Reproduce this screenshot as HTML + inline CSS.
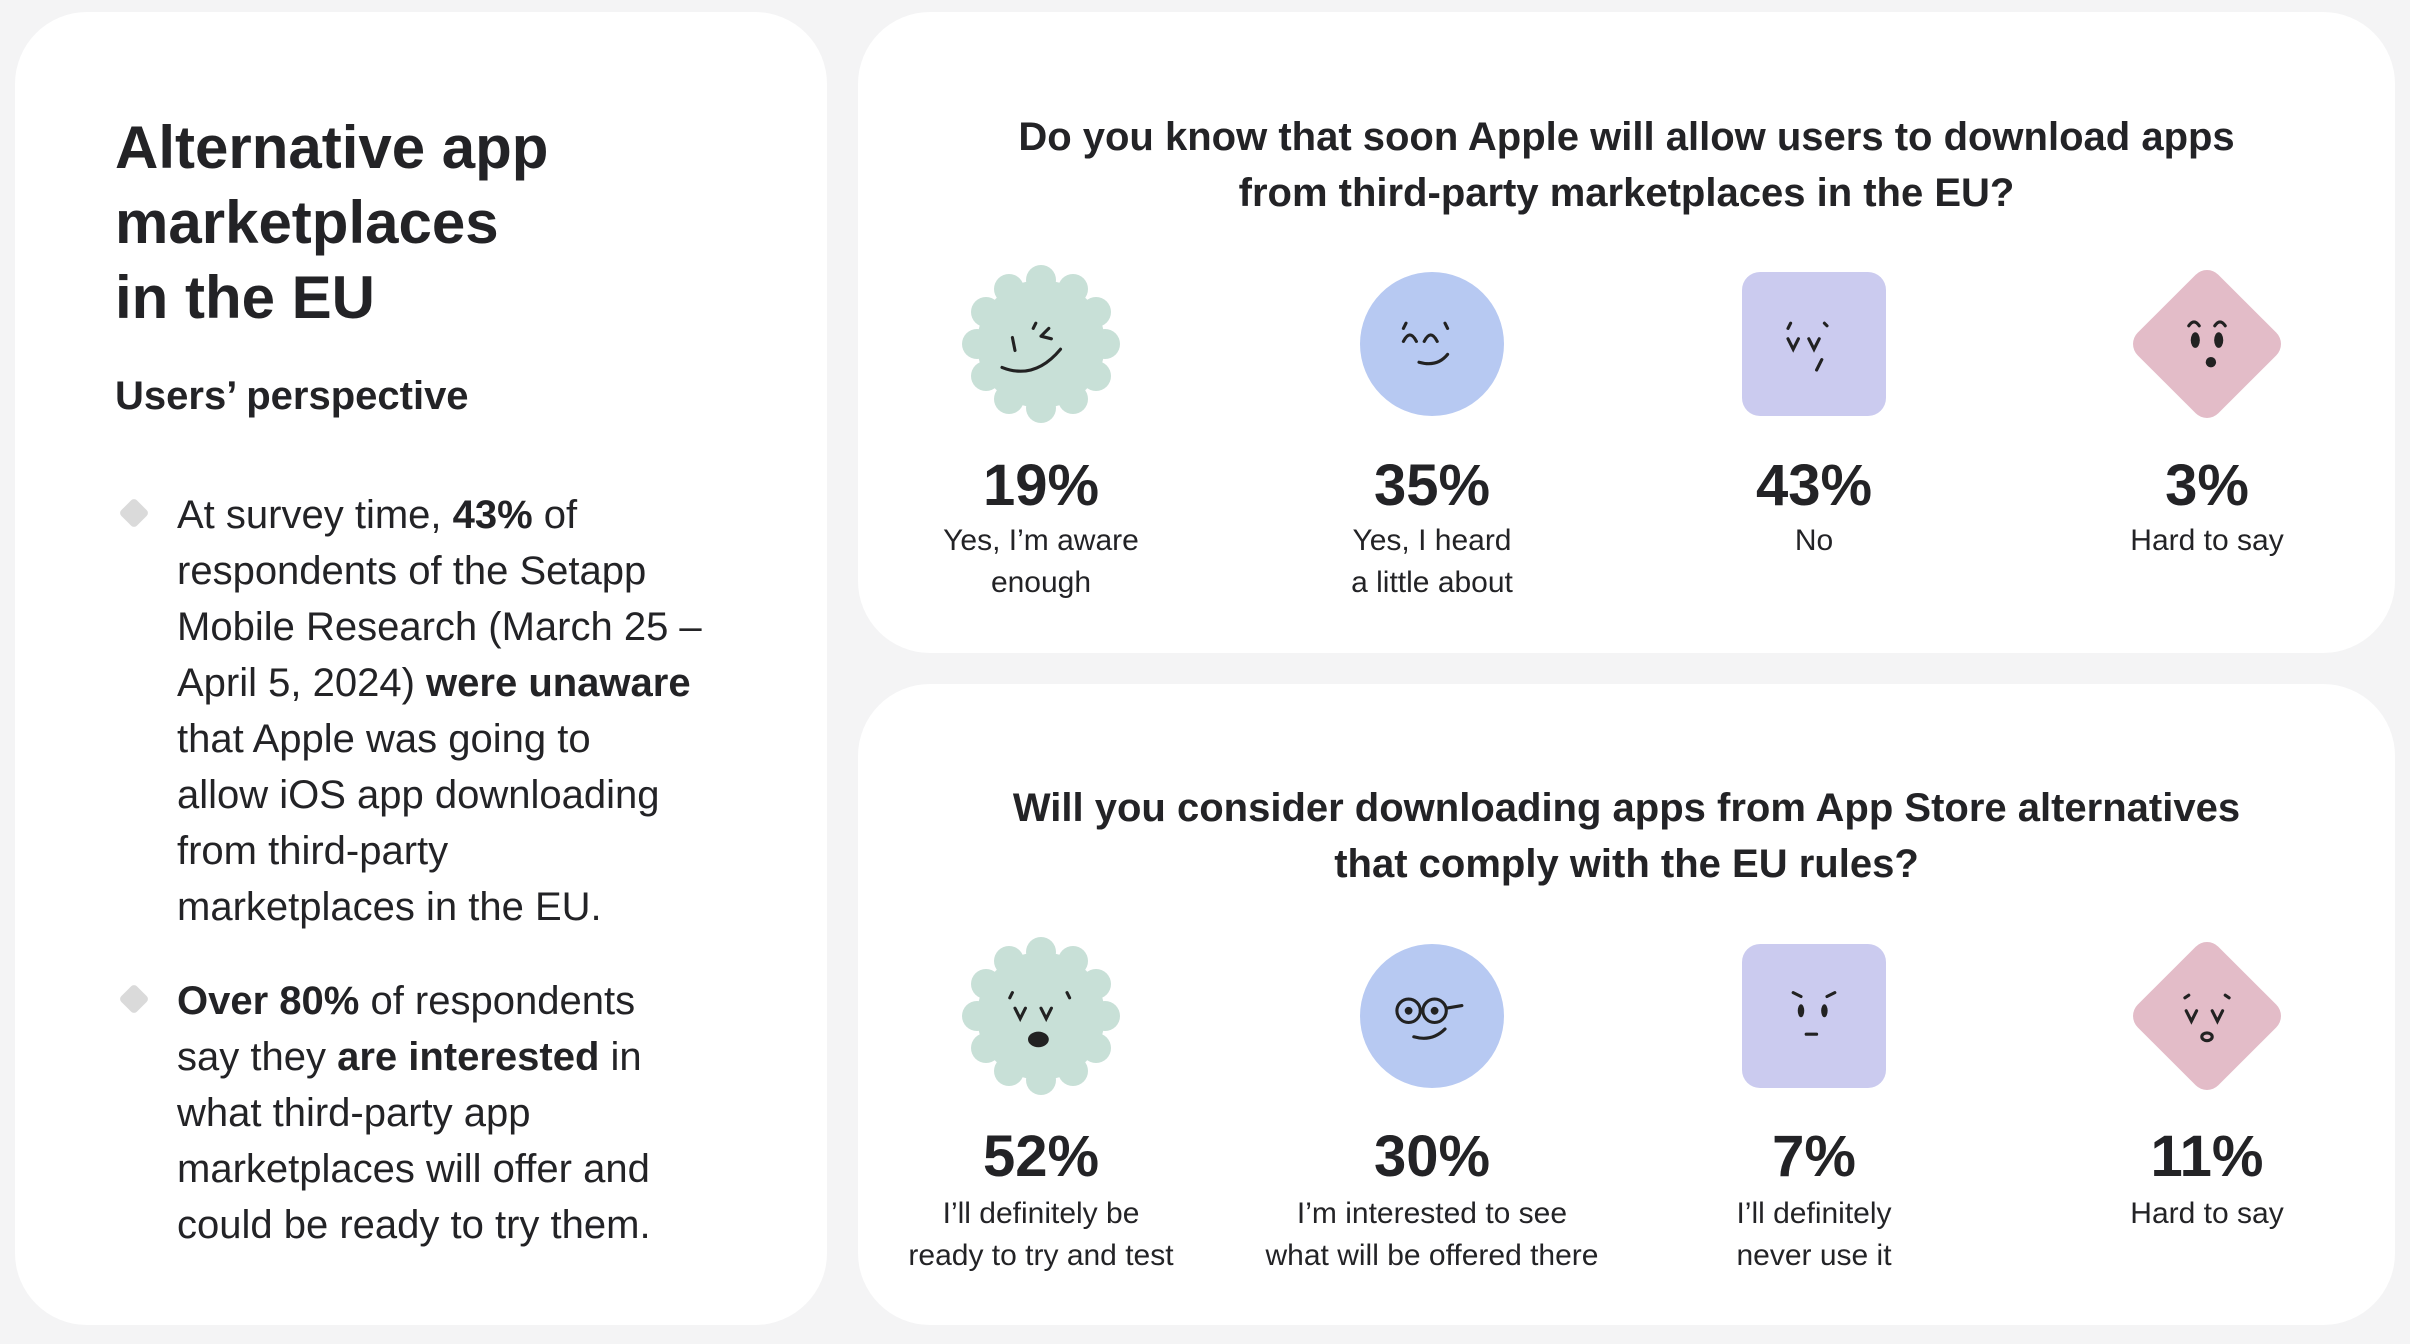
<!DOCTYPE html>
<html><head><meta charset="utf-8"><style>
*{margin:0;padding:0;box-sizing:border-box}
body{width:2410px;height:1344px;background:#f4f4f5;position:relative;overflow:hidden;font-family:"Liberation Sans","DejaVu Sans",sans-serif;color:#232326}
.card{position:absolute;background:#fff;border-radius:72px}
.a{position:absolute;white-space:nowrap}
.c{position:absolute;width:600px;text-align:center;white-space:nowrap}
.q{position:absolute;left:858px;width:1537px;text-align:center;font-weight:bold;font-size:40px;line-height:56px}
.p{font-weight:bold;font-size:58px;line-height:60px}
.l{font-size:30px;line-height:42px}
.ic{position:absolute;width:170px;height:170px}
.bl{font-size:40px;line-height:56px}
.dm{position:absolute;width:22px;height:22px;background:#dadada;transform:rotate(45deg);border-radius:4px}
</style></head><body>
<div class="card" style="left:15px;top:12px;width:812px;height:1313px"></div>
<div class="card" style="left:858px;top:12px;width:1537px;height:641px"></div>
<div class="card" style="left:858px;top:684px;width:1537px;height:641px"></div>

<div class="a" style="left:115px;top:110px;font-size:60px;line-height:75px;font-weight:bold">Alternative app<br>marketplaces<br>in the EU</div>
<div class="a" style="left:115px;top:374px;font-size:40px;font-weight:bold">Users’ perspective</div>

<div class="dm" style="left:123px;top:502px"></div>
<div class="a bl" style="left:177px;top:487px">At survey time, <b>43%</b> of<br>respondents of the Setapp<br>Mobile Research (March 25 –<br>April 5, 2024) <b>were unaware</b><br>that Apple was going to<br>allow iOS app downloading<br>from third-party<br>marketplaces in the EU.</div>
<div class="dm" style="left:123px;top:988px"></div>
<div class="a bl" style="left:177px;top:973px"><b>Over 80%</b> of respondents<br>say they <b>are interested</b> in<br>what third-party app<br>marketplaces will offer and<br>could be ready to try them.</div>

<div class="q" style="top:109px">Do you know that soon Apple will allow users to download apps<br>from third-party marketplaces in the EU?</div>
<div class="q" style="top:780px">Will you consider downloading apps from App Store alternatives<br>that comply with the EU rules?</div>

<!-- top icons -->
<svg class="ic" style="left:956px;top:259px" viewBox="-85 -85 170 170"><g fill="#c8e0d7"><circle r="64"/><circle cx="0" cy="-64" r="15"/><circle cx="32" cy="-55" r="15"/><circle cx="55" cy="-32" r="15"/><circle cx="64" cy="0" r="15"/><circle cx="55" cy="32" r="15"/><circle cx="32" cy="55" r="15"/><circle cx="0" cy="64" r="15"/><circle cx="-32" cy="55" r="15"/><circle cx="-55" cy="32" r="15"/><circle cx="-64" cy="0" r="15"/><circle cx="-55" cy="-32" r="15"/><circle cx="-32" cy="-55" r="15"/></g><g transform="scale(1.3)" fill="none" stroke="#222" stroke-width="2.4" stroke-linecap="round"><path d="M-22 -5 l2 10 M-4 -16 l-2 4 M0 -6 l6 -6 M0 -6 l8 2 M-30 18 q25 10 45 -14"/></g></svg>
<svg class="ic" style="left:1347px;top:259px" viewBox="-85 -85 170 170"><circle r="72" fill="#b7c9f2"/><g transform="scale(1.3)" fill="none" stroke="#222" stroke-width="2.4" stroke-linecap="round"><path d="M-22 -2 q5 -10 10 0 M-6 -2 q5 -10 10 0 M-20 -16 l-2 4 M10 -16 l2 4 M-10 14 q14 4 22 -6"/></g></svg>
<svg class="ic" style="left:1729px;top:259px" viewBox="-85 -85 170 170"><rect x="-72" y="-72" width="144" height="144" rx="18" fill="#cbcbef"/><g transform="scale(1.3)" fill="none" stroke="#222" stroke-width="2.4" stroke-linecap="round"><path d="M-20 -4 l4 8 l4 -8 M-4 -4 l4 8 l4 -8 M-18 -16 l-2 4 M8 -16 l2 2 M6 12 l-4 8"/></g></svg>
<svg class="ic" style="left:2122px;top:259px" viewBox="-85 -85 170 170"><rect x="-57" y="-57" width="114" height="114" rx="16" fill="#e3bcc8" transform="rotate(45)"/><g transform="scale(1.3)"><g stroke="#222" stroke-width="2.4" fill="none" stroke-linecap="round"><path d="M-14 -14 q4 -6 8 0 M6 -14 q4 -6 8 0"/></g><g fill="#222"><ellipse cx="-9" cy="-3" rx="3.5" ry="6"/><ellipse cx="9" cy="-3" rx="3.5" ry="6"/><circle cx="3" cy="14" r="4"/></g></g></svg>

<!-- bottom icons -->
<svg class="ic" style="left:956px;top:931px" viewBox="-85 -85 170 170"><g fill="#c8e0d7"><circle r="64"/><circle cx="0" cy="-64" r="15"/><circle cx="32" cy="-55" r="15"/><circle cx="55" cy="-32" r="15"/><circle cx="64" cy="0" r="15"/><circle cx="55" cy="32" r="15"/><circle cx="32" cy="55" r="15"/><circle cx="0" cy="64" r="15"/><circle cx="-32" cy="55" r="15"/><circle cx="-55" cy="32" r="15"/><circle cx="-64" cy="0" r="15"/><circle cx="-55" cy="-32" r="15"/><circle cx="-32" cy="-55" r="15"/></g><g transform="scale(1.3)"><g fill="none" stroke="#222" stroke-width="2.4" stroke-linecap="round"><path d="M-20 -6 l4 8 l4 -8 M0 -6 l4 8 l4 -8 M-22 -18 l-2 4 M20 -18 l2 4"/></g><ellipse cx="-2" cy="18" rx="8" ry="6" fill="#222"/></g></svg>
<svg class="ic" style="left:1347px;top:931px" viewBox="-85 -85 170 170"><circle r="72" fill="#b7c9f2"/><g transform="scale(1.3)"><g fill="none" stroke="#222" stroke-width="2.4" stroke-linecap="round"><circle cx="-18" cy="-4" r="9"/><circle cx="2" cy="-4" r="9"/><path d="M-9 -4 h2 M11 -6 l12 -2 M-14 16 q14 4 24 -6"/></g><g fill="#222"><circle cx="-18" cy="-4" r="3"/><circle cx="2" cy="-4" r="3"/></g></g></svg>
<svg class="ic" style="left:1729px;top:931px" viewBox="-85 -85 170 170"><rect x="-72" y="-72" width="144" height="144" rx="18" fill="#cbcbef"/><g transform="scale(1.3)"><g fill="none" stroke="#222" stroke-width="2.4" stroke-linecap="round"><path d="M-16 -18 l6 3 M16 -18 l-6 3 M-6 14 h8"/></g><g fill="#222"><ellipse cx="-10" cy="-4" rx="2.5" ry="5"/><ellipse cx="8" cy="-4" rx="2.5" ry="5"/></g></g></svg>
<svg class="ic" style="left:2122px;top:931px" viewBox="-85 -85 170 170"><rect x="-57" y="-57" width="114" height="114" rx="16" fill="#e3bcc8" transform="rotate(45)"/><g transform="scale(1.3)" stroke="#222" stroke-width="2.4" fill="none" stroke-linecap="round"><path d="M-16 -4 l4 8 l4 -8 M4 -4 l4 8 l4 -8 M-14 -16 l-3 2 M14 -16 l3 2"/><ellipse cx="0" cy="16" rx="4" ry="3"/></g></svg>

<!-- top stats -->
<div class="c p" style="left:741px;top:456px">19%</div>
<div class="c l" style="left:741px;top:520px">Yes, I’m aware<br>enough</div>
<div class="c p" style="left:1132px;top:456px">35%</div>
<div class="c l" style="left:1132px;top:520px">Yes, I heard<br>a little about</div>
<div class="c p" style="left:1514px;top:456px">43%</div>
<div class="c l" style="left:1514px;top:520px">No</div>
<div class="c p" style="left:1907px;top:456px">3%</div>
<div class="c l" style="left:1907px;top:520px">Hard to say</div>

<!-- bottom stats -->
<div class="c p" style="left:741px;top:1127px">52%</div>
<div class="c l" style="left:741px;top:1193px">I’ll definitely be<br>ready to try and test</div>
<div class="c p" style="left:1132px;top:1127px">30%</div>
<div class="c l" style="left:1132px;top:1193px">I’m interested to see<br>what will be offered there</div>
<div class="c p" style="left:1514px;top:1127px">7%</div>
<div class="c l" style="left:1514px;top:1193px">I’ll definitely<br>never use it</div>
<div class="c p" style="left:1907px;top:1127px">11%</div>
<div class="c l" style="left:1907px;top:1193px">Hard to say</div>
</body></html>
